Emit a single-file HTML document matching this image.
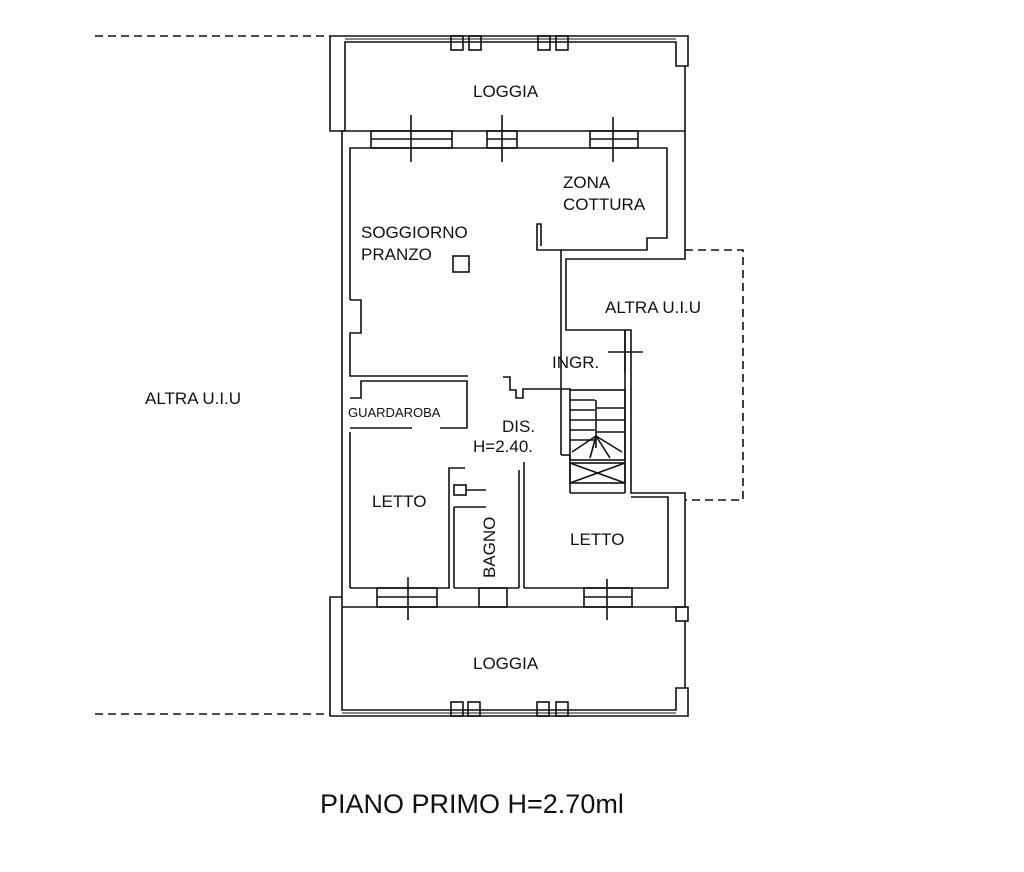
<!DOCTYPE html>
<html><head><meta charset="utf-8"><style>
html,body{margin:0;padding:0;background:#fff}
svg{display:block}
text{font-family:"Liberation Sans",sans-serif;fill:#111}
</style></head><body>
<svg width="1024" height="872" viewBox="0 0 1024 872" xmlns="http://www.w3.org/2000/svg">
<g stroke="#111" stroke-width="1.6" fill="none">
<line x1="95" y1="36" x2="330" y2="36" stroke-dasharray="8,5"/>
<line x1="95" y1="714" x2="330" y2="714" stroke-dasharray="8,5"/>
<polyline points="685,250 743,250 743,500 685,500" stroke-dasharray="8,5"/>

<polyline points="345,131 330,131 330,36 688,36 688,66 676,66 676,42 345,42 345,131"/>
<line x1="345" y1="39" x2="676" y2="39" stroke-width="1"/>
<line x1="685" y1="66" x2="685" y2="131"/>
<rect x="451" y="36" width="12" height="14"/><rect x="469" y="36" width="12" height="14"/>
<rect x="538" y="36" width="12" height="14"/><rect x="556" y="36" width="12" height="14"/>

<polyline points="342,607 342,131 685,131 685,259 566,259 566,330 631,330 631,493 685,493 685,607 342,607"/>
<polyline points="350,300 350,148 667,148 667,238 647,238 647,250 537,250 537,224 541,224 541,246"/>
<line x1="561" y1="250" x2="561" y2="455"/>
<line x1="561" y1="455" x2="570" y2="455"/>
<line x1="570" y1="455" x2="570" y2="493"/>
<line x1="570" y1="493" x2="625" y2="493"/>
<line x1="625" y1="330" x2="625" y2="493"/>
<rect x="371" y="131" width="81" height="17"/><line x1="371" y1="139" x2="452" y2="139"/>
<rect x="487" y="131" width="30" height="17"/><line x1="487" y1="139" x2="517" y2="139"/>
<rect x="590" y="131" width="48" height="17"/><line x1="590" y1="139" x2="638" y2="139"/>
<line x1="411" y1="115" x2="411" y2="162"/><line x1="502" y1="115" x2="502" y2="162"/><line x1="613" y1="117" x2="613" y2="162"/>
<polyline points="350,300 361,300 361,333 350,333 350,376 468,376"/>
<polyline points="350,428 412,428"/><polyline points="440,428 467,428 467,381 361,381 361,398 350,398"/>
<line x1="350" y1="432" x2="350" y2="588"/>
<line x1="608" y1="352" x2="643" y2="352"/><line x1="625" y1="330" x2="625" y2="372"/>
<polyline points="503,377 510,377 510,390 516,390 516,398 523,398 523,389 571,389"/>
<rect x="570" y="390" width="55" height="70"/>
<line x1="570" y1="400" x2="595" y2="400"/><line x1="570" y1="410" x2="595" y2="410"/><line x1="570" y1="420" x2="595" y2="420"/><line x1="570" y1="430" x2="595" y2="430"/><line x1="570" y1="440" x2="595" y2="440"/>
<line x1="596" y1="408" x2="625" y2="408"/><line x1="596" y1="420" x2="625" y2="420"/><line x1="596" y1="432" x2="625" y2="432"/>
<line x1="596" y1="400" x2="596" y2="448"/>
<line x1="596" y1="436" x2="572" y2="452"/><line x1="596" y1="436" x2="590" y2="458"/><line x1="596" y1="436" x2="610" y2="458"/><line x1="596" y1="436" x2="622" y2="452"/>
<rect x="570" y="463" width="55" height="20"/><line x1="570" y1="463" x2="625" y2="483"/><line x1="625" y1="463" x2="570" y2="483"/>
<polyline points="350,588 449,588 449,468 465,468"/>
<line x1="454" y1="588" x2="454" y2="507"/><line x1="454" y1="507" x2="486" y2="507"/>
<rect x="454" y="485" width="12" height="10"/><line x1="466" y1="490" x2="486" y2="490"/>
<line x1="454" y1="588" x2="519" y2="588"/>
<line x1="519" y1="588" x2="519" y2="470"/><line x1="524" y1="588" x2="524" y2="462"/>
<polyline points="524,588 668,588 668,497 631,497"/>
<rect x="377" y="588" width="60" height="19"/><line x1="377" y1="597" x2="437" y2="597"/>
<rect x="479" y="588" width="28" height="19"/>
<rect x="584" y="588" width="48" height="19"/><line x1="584" y1="597" x2="632" y2="597"/>
<line x1="408" y1="577" x2="408" y2="620"/><line x1="607" y1="579" x2="607" y2="620"/>
<polyline points="342,597 330,597 330,716 688,716 688,688 676,688 676,710 342,710 342,607"/>
<line x1="342" y1="713" x2="676" y2="713" stroke-width="1"/>
<rect x="676" y="607" width="12" height="14"/>
<line x1="685" y1="621" x2="685" y2="688"/>
<rect x="451" y="702" width="12" height="14"/><rect x="468" y="702" width="12" height="14"/>
<rect x="537" y="702" width="12" height="14"/><rect x="556" y="702" width="12" height="14"/>
<rect x="453" y="256" width="16" height="16"/>
</g>
<g font-size="17">
<text x="473" y="97">LOGGIA</text>
<text x="361" y="238">SOGGIORNO</text>
<text x="361" y="260">PRANZO</text>
<text x="563" y="188">ZONA</text>
<text x="563" y="210">COTTURA</text>
<text x="605" y="313">ALTRA U.I.U</text>
<text x="552" y="368">INGR.</text>
<text x="502" y="432">DIS.</text>
<text x="473" y="452">H=2.40.</text>
<text x="372" y="507">LETTO</text>
<text x="570" y="545">LETTO</text>
<text transform="translate(495,578) rotate(-90)">BAGNO</text>
<text x="473" y="669">LOGGIA</text>
<text x="145" y="404">ALTRA U.I.U</text>
<text x="348" y="417" font-size="13">GUARDAROBA</text>
<text x="320" y="813" font-size="27">PIANO PRIMO H=2.70ml</text>
</g>
</svg>
</body></html>
